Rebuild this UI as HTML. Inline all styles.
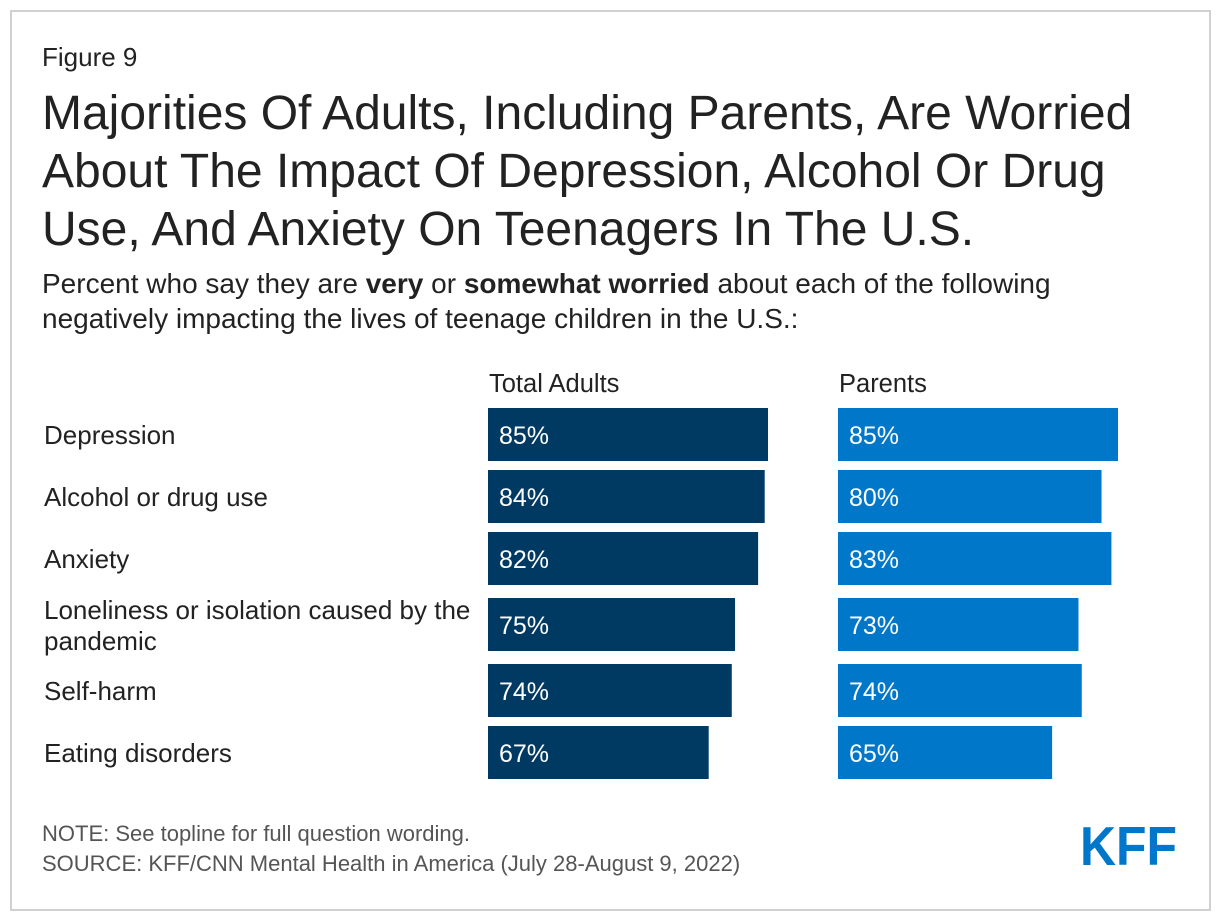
<!DOCTYPE html>
<html><head><meta charset="utf-8"><style>
body{margin:0;width:1220px;height:922px;background:#fff;font-family:"Liberation Sans",sans-serif;position:relative;overflow:hidden}
.frame{position:absolute;left:10px;top:10px;width:1197px;height:897px;border:2px solid #d0d0d0;box-sizing:content-box}
.t{position:absolute;color:#222;white-space:nowrap}
</style></head><body>
<div class="frame"></div>
<div class="t" style="left:42px;top:42px;font-size:26px">Figure 9</div>
<div class="t" style="left:42px;top:85px;font-size:48px;line-height:58px">Majorities Of Adults, Including Parents, Are Worried<br>About The Impact Of Depression, Alcohol Or Drug<br>Use, And Anxiety On Teenagers In The U.S.</div>
<div class="t" style="left:42px;top:266px;font-size:28px;line-height:35px">Percent who say they are <b>very</b> or <b>somewhat worried</b> about each of the following<br>negatively impacting the lives of teenage children in the U.S.:</div>
<div class="t" style="left:42px;top:821px;font-size:22px;color:#555">NOTE: See topline for full question wording.</div>
<div class="t" style="left:42px;top:851px;font-size:22px;color:#555">SOURCE: KFF/CNN Mental Health in America (July 28-August 9, 2022)</div>
<svg style="position:absolute;left:1078px;top:820px" width="102" height="50"><text x="2" y="45" font-family="Liberation Sans" font-weight="bold" font-size="55" fill="#0077c8" textLength="97" lengthAdjust="spacingAndGlyphs">KFF</text></svg>
<svg id="chart" style="position:absolute;left:0;top:0" width="1220" height="922"></svg>
<script>
const categories=["Depression","Alcohol or drug use","Anxiety","Loneliness or isolation caused by the pandemic","Self-harm","Eating disorders"];
const totalAdults=[85,84,82,75,74,67];
const parents=[85,80,83,73,74,65];
const seriesNames=["Total Adults","Parents"];
const svg=document.getElementById('chart');
const NS="http://www.w3.org/2000/svg";
const rowTops=[408,470,532,598,664,726];
const barH=53, scale=280/85;
const xOf=(v)=>v*scale;
function mk(tag,attrs){const e=document.createElementNS(NS,tag);for(const k in attrs)e.setAttribute(k,attrs[k]);svg.appendChild(e);return e;}
const series=[{vals:totalAdults,x0:488,color:"#003a63"},{vals:parents,x0:838,color:"#0077c8"}];
series.forEach((s,si)=>{
  const h=mk('text',{x:s.x0+1,y:392,'font-size':25.5,fill:'#222','font-family':'Liberation Sans'});
  h.textContent=seriesNames[si];
  
  
  s.vals.forEach((v,i)=>{
    const r=mk('rect',{x:s.x0,y:rowTops[i],width:xOf(v),height:barH,fill:s.color});
    
    
    const t=mk('text',{x:s.x0+11,y:rowTops[i]+36,'font-size':25,fill:'#fff','font-family':'Liberation Sans'});
    t.textContent=v+'%';
    
    
  });
});
categories.forEach((c,i)=>{
  const t=mk('text',{x:44,'font-size':26,fill:'#222','font-family':'Liberation Sans'});
  if(c.length>30){
    const a=mk('tspan',{x:44,y:rowTops[i]+21});a.textContent="Loneliness or isolation caused by the";t.appendChild(a);
    const b=mk('tspan',{x:44,y:rowTops[i]+52});b.textContent="pandemic";t.appendChild(b);
  } else {t.setAttribute('y',rowTops[i]+36);t.textContent=c;}
  
  
});
</script>
</body></html>
